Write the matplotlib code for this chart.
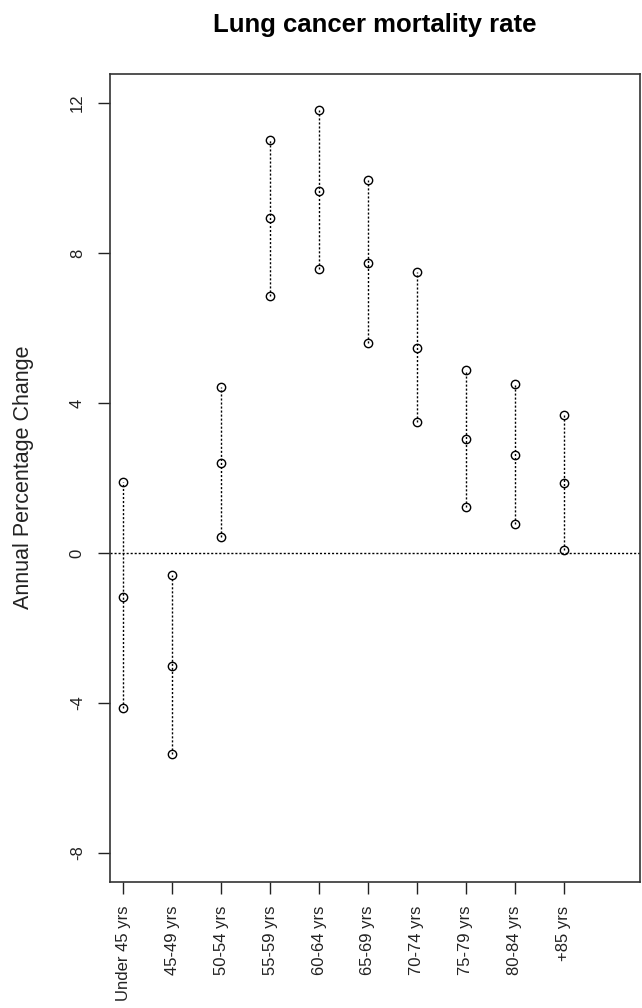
import matplotlib
matplotlib.use("Agg")
import matplotlib.pyplot as plt
import numpy as np

categories = ["Under 45 yrs", "45-49 yrs", "50-54 yrs", "55-59 yrs", "60-64 yrs",
              "65-69 yrs", "70-74 yrs", "75-79 yrs", "80-84 yrs", "+85 yrs"]
upper = [1.90, -0.59, 4.43, 11.01, 11.80, 9.95, 7.49, 4.89, 4.51, 3.68]
mid = [-1.17, -3.01, 2.41, 8.92, 9.66, 7.74, 5.46, 3.03, 2.61, 1.86]
lower = [-4.12, -5.36, 0.44, 6.85, 7.56, 5.61, 3.50, 1.23, 0.77, 0.08]
yticks = [-8, -4, 0, 4, 8, 12]

plt.rcParams['font.family'] = ['Liberation Sans', 'DejaVu Sans']

fig = plt.figure(figsize=(6.42, 10.08), dpi=100)
ax = fig.add_axes([110/642, 1-882/1008, 530/642, 808/1008])

x = np.arange(1, len(categories)+1)
dot = (0, (1.5, 1.4))
ax.axhline(0, color='black', lw=1.0, linestyle=dot, zorder=1)
for xi, lo, hi in zip(x, lower, upper):
    ax.plot([xi, xi], [lo, hi], color='black', lw=1.0, linestyle=dot, zorder=2)
for series in (upper, mid, lower):
    ax.plot(x, series, linestyle='none', marker='o', markersize=6,
            mfc='none', mec='black', mew=1.0, zorder=3)

ax.set_xlim(0.728, 11.56)
ax.set_ylim(-8.77, 12.77)
ax.set_yticks(yticks)
ax.set_yticklabels([str(v) for v in yticks], rotation=90, va='center')
ax.set_xticks(x)
ax.set_xticklabels(categories, rotation=90)
ax.tick_params(axis='both', length=8.6, width=1.0, color='#222222', labelsize=12,
               labelcolor='#222222')
ax.tick_params(axis='y', pad=9.5)
ax.tick_params(axis='x', pad=8.6)
for s in ax.spines.values():
    s.set_color('#333333')
    s.set_linewidth(1.2)

fig.text(24/642, 477.5/1008 * 0 + 1-477.5/1008, "Annual Percentage Change", rotation=90,
         ha='center', va='center', fontsize=15.5, color='#222222')
fig.text(375/642, 1-32/1008, "Lung cancer mortality rate", ha='center', va='baseline',
         fontsize=18.5, fontweight='bold', color='black')

fig.savefig("out.png", dpi=100)
